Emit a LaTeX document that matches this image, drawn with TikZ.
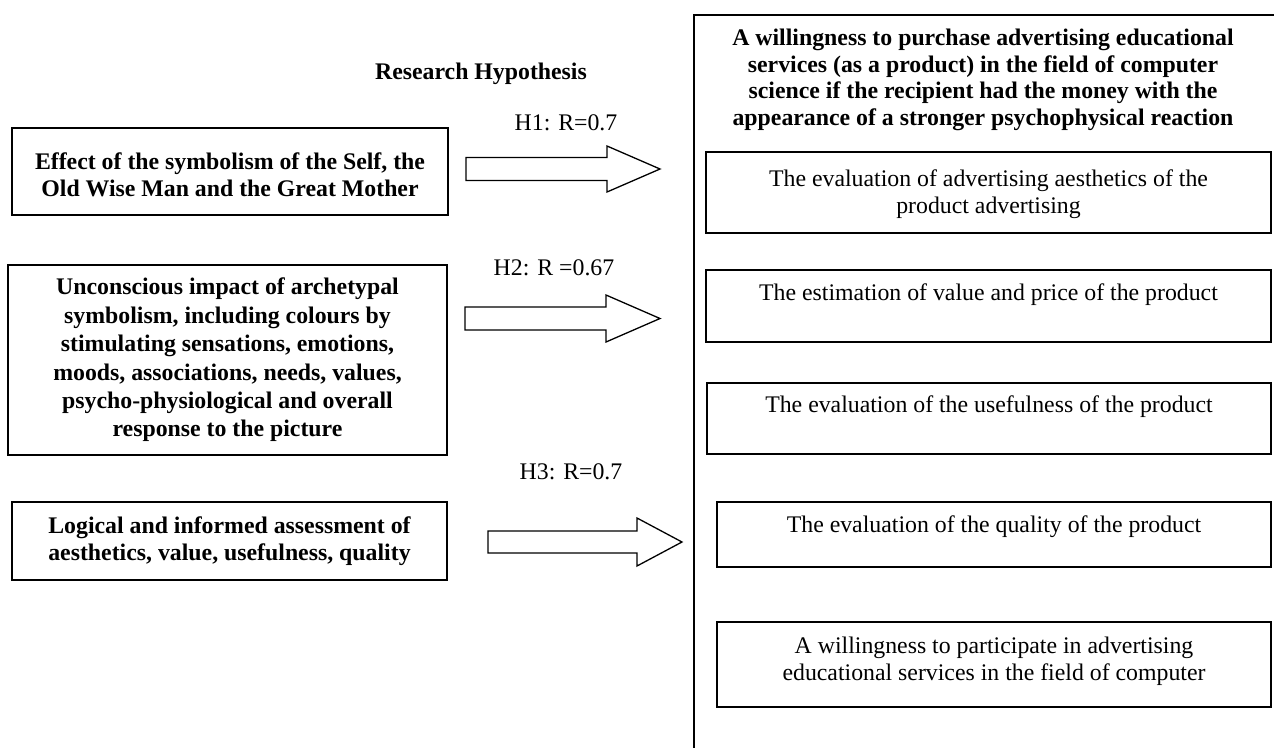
\documentclass[tikz,border=0pt]{standalone}
\usepackage{fontspec}
\setmainfont{Liberation Serif}
\begin{document}
\begin{tikzpicture}[x=1pt,y=-1pt,
  lbox/.style={draw, line width=1.8pt, inner sep=0pt,
    font=\fontsize{23.8}{27}\selectfont\bfseries, align=center},
  rbox/.style={draw, line width=1.5pt, inner sep=0pt},
  txt/.style={inner sep=0pt, align=center, font=\fontsize{23.8}{27}\selectfont},
  btxt/.style={inner sep=0pt, align=center, font=\fontsize{23.8}{26.5}\selectfont\bfseries},
  blockarrow/.style={draw, line width=1.3pt, fill=white, line join=miter},
  frame/.style={line width=1.8pt}]
\useasboundingbox (0,0) rectangle (1274,747);

% outer frame of the dependent variable (open to the right and bottom)
\coordinate (fb) at (694,760);
\coordinate (ft) at (694,15);
\coordinate (fr) at (1290,15);
\draw[frame] (fb) -- (ft) -- (fr);

% headings
\node[btxt] (title) at (481,74) {Research Hypothesis};
\node[btxt] (dep) at (983,80) {A willingness to purchase advertising educational\\
  services (as a product) in the field of computer\\
  science if the recipient had the money with the\\
  appearance of a stronger psychophysical reaction};

% independent variables
\node[lbox, minimum width=436pt, minimum height=87pt] (b1) at (230,171.5) {};
\node[btxt, font=\fontsize{23.8}{27}\selectfont\bfseries] (b1t) at (230,175)
  {Effect of the symbolism of the Self, the\\Old Wise Man and the Great Mother};
\node[lbox, minimum width=439pt, minimum height=190pt,
  font=\fontsize{23.8}{28.4}\selectfont\bfseries] (b2) at (227.5,360)
  {Unconscious impact of archetypal\\symbolism, including colours by\\
   stimulating sensations, emotions,\\moods, associations, needs, values,\\
   psycho-physiological and overall\\response to the picture};
\node[lbox, minimum width=435pt, minimum height=78pt] (b3) at (229.5,541)
  {Logical and informed assessment of\\aesthetics, value, usefulness, quality};

% hypothesis labels
\node[txt] (h1) at (566,123) {H1: R=0.7};
\node[txt] (h2) at (554,268) {H2: R =0.67};
\node[txt] (h3) at (571,472) {H3: R=0.7};

% block arrows
\coordinate (a1) at (660,169);
\draw[blockarrow] (466,157.5) -- (607,157.5) -- (607,146) -- (a1)
  -- (607,192) -- (607,180.5) -- (466,180.5) -- cycle;
\coordinate (a2) at (660,318.5);
\draw[blockarrow] (465,307) -- (606,307) -- (606,295) -- (a2)
  -- (606,342) -- (606,330) -- (465,330) -- cycle;
\coordinate (a3) at (682,542);
\draw[blockarrow] (488,531) -- (637,531) -- (637,518) -- (a3)
  -- (637,566) -- (637,553) -- (488,553) -- cycle;

% components of the dependent variable
\node[rbox, minimum width=565pt, minimum height=81pt] (r1) at (988.5,192.5) {};
\node[txt] (t1) at (988.5,194) {The evaluation of advertising aesthetics of the\\product advertising};
\node[rbox, minimum width=565pt, minimum height=72pt] (r2) at (988.5,306) {};
\node[txt] (t2) at (988.5,295) {The estimation of value and price of the product};
\node[rbox, minimum width=564pt, minimum height=71pt] (r3) at (989,418.5) {};
\node[txt] (t3) at (989,407) {The evaluation of the usefulness of the product};
\node[rbox, minimum width=554pt, minimum height=65pt] (r4) at (994,534.5) {};
\node[txt] (t4) at (994,527) {The evaluation of the quality of the product};
\node[rbox, minimum width=554pt, minimum height=85pt] (r5) at (994,664.5) {};
\node[txt] (t5) at (994,661.5) {A willingness to participate in advertising\\educational services in the field of computer};
\end{tikzpicture}
\end{document}
